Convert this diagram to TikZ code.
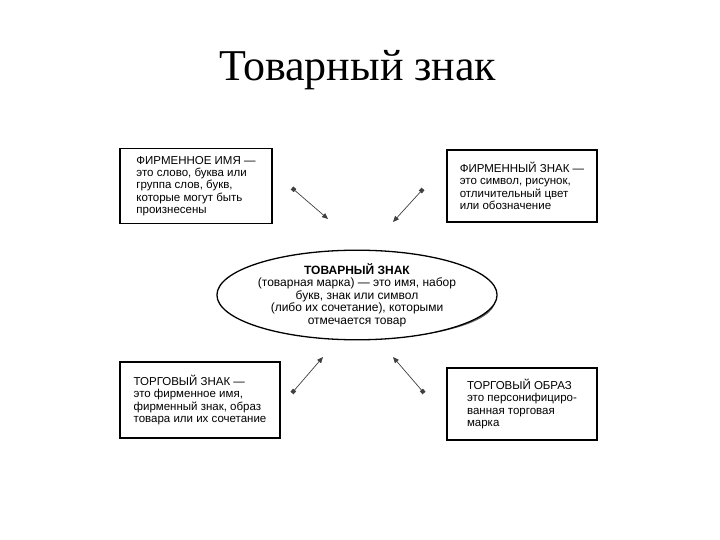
\documentclass[tikz,border=0pt]{standalone}
\usepackage{fontspec}
\setmainfont{Liberation Sans}
\newfontfamily\titlefont{Liberation Serif}
\usetikzlibrary{arrows.meta,shapes.geometric}
\begin{document}
\begin{tikzpicture}[x=1bp,y=-1bp,
  box/.style={draw, line width=1.3bp, align=left, inner sep=0pt,
    font=\fontsize{11.5bp}{12.3bp}\selectfont},
  oval/.style={ellipse, draw, line width=1.3bp, fill=white, align=center, inner sep=0pt,
    minimum width=266bp, minimum height=76bp, font=\fontsize{12bp}{12.5bp}\selectfont},
  link/.style={line width=0.7bp, black!75, {Square[length=4bp,width=4bp]}-{Triangle[length=6bp,width=5bp]}}]
\useasboundingbox (0,0) rectangle (720,540);
\node[font=\titlefont\fontsize{44bp}{50bp}\selectfont] (title) at (358,70) {Товарный знак};

\node[box, minimum width=152bp, minimum height=75bp] (b1) at (196,186)
  {ФИРМЕННОЕ ИМЯ —\\это слово, буква или\\группа слов, букв,\\которые могут быть\\произнесены};
\node[box, minimum width=150bp, minimum height=72bp] (b2) at (522,186)
  {ФИРМЕННЫЙ ЗНАК —\\это символ, рисунок,\\отличительный цвет\\или обозначение};
\node[box, minimum width=160bp, minimum height=76bp] (b3) at (200,400)
  {ТОРГОВЫЙ ЗНАК —\\это фирменное имя,\\фирменный знак, образ\\товара или их сочетание};
\node[box, minimum width=150bp, minimum height=72bp] (b4) at (522,404)
  {ТОРГОВЫЙ ОБРАЗ\\это персонифициро-\\ванная торговая\\марка};

\fill[black!60] (362,301) ellipse [x radius=133, y radius=38];
\node[oval] (center) at (357,295)
  {\textbf{ТОВАРНЫЙ ЗНАК}\\(товарная марка) — это имя, набор\\букв, знак или символ\\(либо их сочетание), которыми\\отмечается товар};

\coordinate (a1s) at (292,188); \coordinate (a1e) at (328,219);
\coordinate (a2s) at (423,189); \coordinate (a2e) at (393,222);
\coordinate (a3s) at (292,393); \coordinate (a3e) at (323,357);
\coordinate (a4s) at (424,393); \coordinate (a4e) at (393,357);
\draw[link] (a1s) -- (a1e);
\draw[link] (a2s) -- (a2e);
\draw[link] (a3s) -- (a3e);
\draw[link] (a4s) -- (a4e);
\end{tikzpicture}
\end{document}
